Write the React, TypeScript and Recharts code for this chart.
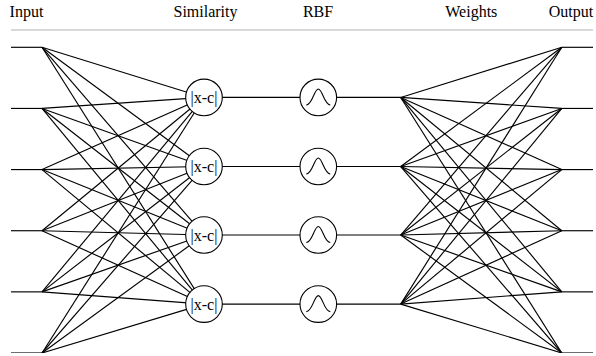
import React from 'react';
import { ComposedChart, Line, Scatter, XAxis, YAxis } from 'recharts';

// Layer header labels and where they sit along the network (x units 0..100)
const layerNames = ['Input', 'Similarity', 'RBF', 'Weights', 'Output'];
const layerLabelX = [2.66, 33.42, 52.75, 79.09, 96.22];

// Node positions (y units: input index)
const inputY = [0, 1, 2, 3, 4, 5];
const hiddenY = [0.82, 1.95, 3.07, 4.2];
const outputY = [0, 1, 2, 3, 4, 5];

// Layer x positions
const inputStartX = 0;
const inputFanX = 5.33;
const similarityX = 33.16;
const rbfX = 52.8;
const weightsFanX = 66.96;
const outputFanX = 94.64;
const outputEndX = 100;

type P = { x: number; y: number };
const segments: P[][] = [];
inputY.forEach((y) => segments.push([{ x: inputStartX, y }, { x: inputFanX, y }]));
inputY.forEach((yi) =>
  hiddenY.forEach((yh) => segments.push([{ x: inputFanX, y: yi }, { x: similarityX, y: yh }]))
);
hiddenY.forEach((y) => segments.push([{ x: similarityX, y }, { x: weightsFanX, y }]));
hiddenY.forEach((yh) =>
  outputY.forEach((yo) => segments.push([{ x: weightsFanX, y: yh }, { x: outputFanX, y: yo }]))
);
outputY.forEach((y) => segments.push([{ x: outputFanX, y }, { x: outputEndX, y }]));

const similarityNodes = hiddenY.map((y) => ({ x: similarityX, y }));
const rbfNodes = hiddenY.map((y) => ({ x: rbfX, y }));

const R = 18.3;
const FONT = 'Liberation Serif, Times New Roman, serif';

const SimShape = (props: any) => {
  const { cx, cy } = props;
  return (
    <g>
      <circle cx={cx} cy={cy} r={R} fill="#fff" stroke="#000" strokeWidth={1.1} />
      <text
        x={cx}
        y={cy}
        textAnchor="middle"
        dominantBaseline="central"
        style={{ fontFamily: FONT, fontSize: 16 }}
        fill="#000"
      >
        |x-c|
      </text>
    </g>
  );
};

const RbfShape = (props: any) => {
  const { cx, cy } = props;
  const d = `M ${cx - 12} ${cy + 7.5} C ${cx - 6} ${cy + 7.5} ${cx - 4} ${cy - 8.5} ${cx} ${cy - 8.5} C ${cx + 4} ${cy - 8.5} ${cx + 6} ${cy + 7.5} ${cx + 12} ${cy + 7.5}`;
  return (
    <g>
      <circle cx={cx} cy={cy} r={R} fill="#fff" stroke="#000" strokeWidth={1.1} />
      <path d={d} fill="none" stroke="#000" strokeWidth={1.1} />
    </g>
  );
};

export default function App() {
  return (
    <div style={{ position: 'absolute', left: 0, top: 0, background: '#fff' }}>
      <ComposedChart width={596} height={356} margin={{ top: 0, right: 3, bottom: 3, left: 11 }}>
        <XAxis
          xAxisId={0}
          orientation="top"
          type="number"
          dataKey="x"
          domain={[0, 100]}
          allowDataOverflow
          ticks={layerLabelX}
          interval={0}
          tickFormatter={(_v: number, i: number) => layerNames[i]}
          height={30}
          tickLine={false}
          tickSize={0}
          tickMargin={13}
          axisLine={{ stroke: '#b3b3b3', strokeWidth: 1 }}
          tick={{ fill: '#000', fontSize: 16, fontFamily: FONT, style: { fontFamily: FONT } }}
        />
        <YAxis
          yAxisId={0}
          type="number"
          dataKey="y"
          domain={[-0.283, 5]}
          allowDataOverflow
          reversed
          hide
        />
        {segments.map((seg, i) => (
          <Line
            key={`s${i}`}
            data={seg}
            dataKey="y"
            type="linear"
            stroke="#000"
            strokeWidth={1.15}
            dot={false}
            activeDot={false}
            isAnimationActive={false}
            legendType="none"
          />
        ))}
        <Scatter data={similarityNodes} shape={SimShape} isAnimationActive={false} legendType="none" />
        <Scatter data={rbfNodes} shape={RbfShape} isAnimationActive={false} legendType="none" />
      </ComposedChart>
    </div>
  );
}
